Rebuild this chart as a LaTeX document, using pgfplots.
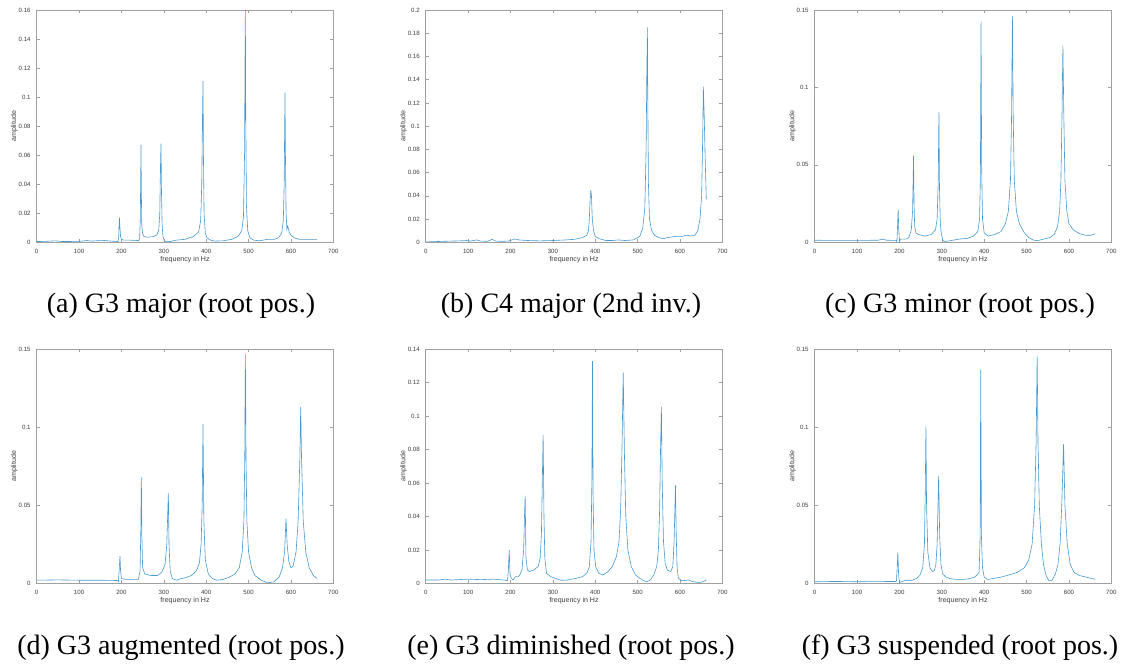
\documentclass[border=0pt]{standalone}
\usepackage{fontspec}
\setmainfont{Liberation Serif}
\newfontfamily\axfont{Liberation Sans}
\usepackage{pgfplots}
\pgfplotsset{compat=1.18}
\definecolor{mblue}{RGB}{0,114,189}
\definecolor{axgray}{RGB}{160,160,160}
\definecolor{tgray}{RGB}{60,60,60}
\tikzset{subcap/.style={font=\fontsize{21}{24}\selectfont, anchor=base}}
\pgfplotsset{
  spec/.style={
    scale only axis, width=222.5pt, anchor=south west,
    xmin=0, xmax=700, xtick={0,100,...,700},
    axis line style={axgray, line width=0.4pt},
    every tick/.style={axgray, line width=0.4pt},
    major tick length=2.2pt, tick align=inside, tick pos=both,
    scaled y ticks=false, scaled x ticks=false,
    tick label style={font=\axfont\fontsize{4.6}{5}\selectfont, text=tgray},
    /pgf/number format/assume math mode=true,
    xticklabel style={yshift=-1.5pt},
    yticklabel style={xshift=-1pt},
    xlabel={frequency in Hz}, ylabel={amplitude},
    every axis x label/.style={at={(axis description cs:0.5,-0.073)}, anchor=center, font=\axfont\fontsize{5.3}{6}\selectfont, text=tgray},
    every axis y label/.style={at={(axis description cs:-0.075,0.5)}, anchor=center, rotate=90, font=\axfont\fontsize{5.3}{6}\selectfont, text=tgray},
    ymin=0,
  },
  spl/.style={mblue!72!white, line width=0.45pt, mark=none},
}
\begin{document}
\begin{tikzpicture}
\path[use as bounding box] (0,0) rectangle (841.5pt,499.5pt);
% (a)
\begin{axis}[spec, at={(27.5pt,317.8pt)}, height=174.2pt, ymax=0.16,
  ytick={0,0.02,0.04,0.06,0.08,0.1,0.12,0.14,0.16},
  yticklabels={0,0.02,0.04,0.06,0.08,0.1,0.12,0.14,0.16}]
\addplot[spl] coordinates {(0,0.0005) (20,0.0006) (45,0.001) (60,0.0005) (100,0.0006) (118,0.0012) (130,0.0008) (140,0.001) (160,0.0012) (180,0.0007) (192,0.0005)
(193.5,0.003) (194.5,0.012) (195.3,0.017) (196.5,0.01) (198,0.004) (200,0.002) (205,0.0015) (215,0.0015) (230,0.0013) (241,0.0012)
(243,0.003) (244.5,0.015) (245.5,0.045) (246.2,0.067) (247,0.035) (248,0.012) (250,0.006) (253,0.004) (260,0.0035) (275,0.0038) (283,0.005) (288,0.008) (290.5,0.02) (292,0.05) (293.4,0.068) (294.5,0.035) (296,0.012) (298,0.004) (301,0.001) (306,0.0003) (315,0.0005) (330,0.0015) (350,0.002) (370,0.004) (382,0.007) (387,0.015) (389.5,0.04) (391,0.08) (392.5,0.111) (393.5,0.06) (395,0.02) (398,0.006) (402,0.003) (410,0.0015) (420,0.0008) (440,0.001) (460,0.002) (475,0.004) (484,0.008) (488,0.018) (490.5,0.06) (491.5,0.12) (492.4,0.16) (493.3,0.09) (495,0.025) (498,0.008) (503,0.003) (512,0.0015) (525,0.001) (545,0.002) (560,0.002) (570,0.003) (578,0.006) (582,0.015) (584,0.04) (585.2,0.08) (586,0.103) (587,0.06) (588.5,0.02) (590.5,0.009) (592.5,0.011) (596,0.007) (600,0.005) (608,0.003) (620,0.002) (640,0.002) (662,0.002)};
\end{axis}
% (b)
\begin{axis}[spec, at={(319.3pt,317.8pt)}, height=174.2pt, ymax=0.2,
  ytick={0,0.02,0.04,0.06,0.08,0.1,0.12,0.14,0.16,0.18,0.2},
  yticklabels={0,0.02,0.04,0.06,0.08,0.1,0.12,0.14,0.16,0.18,0.2}]
\addplot[spl] coordinates {(0,0.0003) (20,0.0005) (40,0.0008) (60,0.001) (80,0.0012) (95,0.0015) (105,0.001) (120,0.002) (130,0.001) (145,0.0008) (157,0.0025) (165,0.001) (180,0.0008) (195,0.001) (210,0.0028) (220,0.002) (240,0.0015) (270,0.0012) (300,0.0015) (330,0.002) (350,0.0025) (370,0.004) (380,0.006) (384,0.01) (386,0.02) (388,0.038) (389.5,0.045) (391,0.04) (393,0.02) (396,0.01) (400,0.005) (410,0.003) (425,0.0015) (440,0.0015) (455,0.002) (470,0.0015) (490,0.002) (505,0.005) (512,0.012) (517,0.03) (520,0.08) (521.5,0.14) (523,0.185) (524,0.12) (525.5,0.05) (528,0.02) (533,0.01) (540,0.006) (550,0.004) (560,0.003) (570,0.004) (590,0.005) (605,0.005) (615,0.006) (625,0.0055) (635,0.006) (642,0.01) (647,0.02) (651,0.04) (653.5,0.09) (655,0.134) (657,0.11) (659.5,0.07) (662,0.037)};
\end{axis}
% (c)
\begin{axis}[spec, at={(611pt,317.8pt)}, height=174.2pt, ymax=0.15,
  ytick={0,0.05,0.1,0.15}, yticklabels={0,0.05,0.1,0.15}]
\addplot[spl] coordinates {(0,0.0013) (50,0.0012) (100,0.0012) (150,0.0013) (160,0.002) (170,0.0013) (192,0.0012) (194,0.0003) (195.5,0.01) (197,0.0212) (198.5,0.008) (200,0.0005) (203,0.002) (215,0.002) (222,0.003) (228,0.008) (231,0.02) (232.3,0.04) (233.3,0.056) (234.5,0.025) (236,0.01) (239,0.006) (245,0.005) (260,0.004) (275,0.005) (285,0.008) (289,0.015) (291.5,0.04) (293.2,0.084) (294.5,0.035) (296.5,0.012) (299,0.005) (303,0.001) (308,0.0005) (320,0.001) (340,0.002) (360,0.0025) (375,0.004) (385,0.007) (389,0.015) (391,0.04) (392.6,0.1425) (394,0.05) (396,0.015) (400,0.006) (410,0.004) (425,0.005) (440,0.007) (450,0.012) (457,0.02) (462,0.04) (464.5,0.08) (466.6,0.146) (468.5,0.08) (471,0.04) (476,0.02) (483,0.012) (495,0.006) (505,0.003) (515,0.0015) (525,0.001) (540,0.002) (555,0.003) (565,0.005) (573,0.01) (578,0.02) (581,0.04) (583.5,0.08) (585.7,0.127) (588,0.08) (590.5,0.04) (595,0.02) (600,0.012) (610,0.008) (625,0.0055) (640,0.0045) (652,0.0045) (662,0.0055)};
\end{axis}
% (d)
\begin{axis}[spec, at={(27.5pt,62pt)}, height=175.5pt, ymax=0.15,
  ytick={0,0.05,0.1,0.15}, yticklabels={0,0.05,0.1,0.15}]
\addplot[spl] coordinates {(0,0.002) (50,0.0022) (100,0.002) (150,0.002) (190,0.0018) (193,0.001) (195,0.01) (196.6,0.0175) (198,0.008) (200,0.003) (210,0.0025) (240,0.0025) (244,0.008) (245.8,0.035) (247,0.068) (248.3,0.03) (250,0.01) (255,0.006) (270,0.005) (285,0.005) (295,0.007) (303,0.012) (307,0.025) (309.3,0.045) (310.7,0.0577) (312.3,0.025) (315,0.008) (320,0.003) (330,0.002) (340,0.003) (350,0.0035) (365,0.005) (377,0.008) (384,0.013) (388,0.025) (390.5,0.05) (392.5,0.102) (394.5,0.04) (398,0.015) (405,0.006) (415,0.003) (425,0.002) (440,0.0025) (455,0.004) (468,0.006) (478,0.01) (485,0.02) (489,0.04) (491,0.08) (492.4,0.147) (494,0.08) (496,0.04) (500,0.02) (507,0.01) (515,0.005) (530,0.002) (545,0.0003) (560,0.001) (572,0.004) (580,0.01) (585,0.02) (588.3,0.0415) (591,0.025) (595,0.014) (600,0.01) (605,0.011) (612,0.02) (617,0.04) (621,0.08) (623,0.113) (625,0.08) (629,0.04) (635,0.02) (643,0.01) (653,0.005) (662,0.003)};
\end{axis}
% (e)
\begin{axis}[spec, at={(319.3pt,62pt)}, height=175.5pt, ymax=0.14,
  ytick={0,0.02,0.04,0.06,0.08,0.1,0.12,0.14},
  yticklabels={0,0.02,0.04,0.06,0.08,0.1,0.12,0.14}]
\addplot[spl] coordinates {(0,0.002) (30,0.002) (45,0.0025) (60,0.002) (100,0.0025) (130,0.0022) (160,0.0025) (190,0.0018) (193,0.0015) (195,0.008) (197,0.02) (199,0.005) (202,0.003) (206,0.002) (212,0.004) (218,0.0038) (222,0.005) (227,0.008) (231,0.02) (233,0.04) (234.6,0.0525) (236.5,0.015) (240,0.008) (245,0.007) (255,0.008) (265,0.01) (270,0.015) (273,0.03) (275,0.06) (277,0.089) (279,0.04) (281,0.015) (285,0.006) (295,0.004) (305,0.003) (320,0.0018) (335,0.002) (355,0.003) (370,0.004) (380,0.006) (386,0.01) (390,0.025) (392,0.06) (393.5,0.133) (395,0.05) (397,0.02) (401,0.01) (408,0.006) (418,0.005) (430,0.007) (440,0.01) (450,0.016) (456,0.025) (460,0.045) (463,0.08) (466,0.126) (469,0.075) (472,0.04) (477,0.02) (485,0.01) (495,0.005) (505,0.003) (515,0.0015) (522,0.001) (530,0.002) (538,0.005) (545,0.01) (549,0.02) (552,0.045) (554,0.08) (556,0.1055) (558,0.06) (561,0.025) (565,0.012) (570,0.008) (578,0.007) (583,0.01) (586,0.025) (588,0.045) (589.3,0.0586) (591,0.03) (593,0.01) (596,0.003) (605,0.0015) (620,0.002) (630,0.001) (645,0.0005) (655,0.001) (662,0.002)};
\end{axis}
% (f)
\begin{axis}[spec, at={(611pt,62pt)}, height=175.5pt, ymax=0.15,
  ytick={0,0.05,0.1,0.15}, yticklabels={0,0.05,0.1,0.15}]
\addplot[spl] coordinates {(0,0.001) (50,0.0012) (100,0.001) (150,0.0011) (190,0.0012) (193,0.0015) (195,0.012) (196.3,0.0199) (198,0.006) (200,0.0005) (205,0.001) (215,0.002) (230,0.002) (240,0.003) (248,0.005) (255,0.01) (259,0.025) (261,0.06) (262.5,0.1004) (264,0.05) (267,0.02) (272,0.01) (278,0.0075) (282,0.008) (286,0.012) (289,0.025) (291,0.05) (292.5,0.0688) (295,0.03) (298,0.012) (302,0.006) (310,0.004) (320,0.003) (335,0.0025) (350,0.0025) (365,0.003) (378,0.004) (385,0.006) (388,0.007) (390.5,0.03) (391.8,0.1368) (393.5,0.03) (396,0.01) (400,0.004) (408,0.0025) (420,0.003) (440,0.004) (460,0.0055) (478,0.007) (495,0.01) (505,0.015) (513,0.025) (519,0.05) (522.5,0.09) (525,0.1457) (527,0.09) (530,0.05) (535,0.025) (540,0.012) (546,0.005) (553,0.0015) (560,0.002) (568,0.006) (574,0.012) (579,0.025) (583,0.05) (587.3,0.0893) (590.5,0.05) (596,0.025) (603,0.012) (612,0.007) (625,0.005) (640,0.004) (655,0.003) (662,0.0025)};
\end{axis}
\node[subcap] at (135.75pt,264.75pt) {(a) G3 major (root pos.)};
\node[subcap] at (428.25pt,264.75pt) {(b) C4 major (2nd inv.)};
\node[subcap] at (720pt,264.75pt) {(c) G3 minor (root pos.)};
\node[subcap] at (135.75pt,8.25pt) {(d) G3 augmented (root pos.)};
\node[subcap] at (428.25pt,8.25pt) {(e) G3 diminished (root pos.)};
\node[subcap] at (720pt,8.25pt) {(f) G3 suspended (root pos.)};
\end{tikzpicture}
\end{document}
